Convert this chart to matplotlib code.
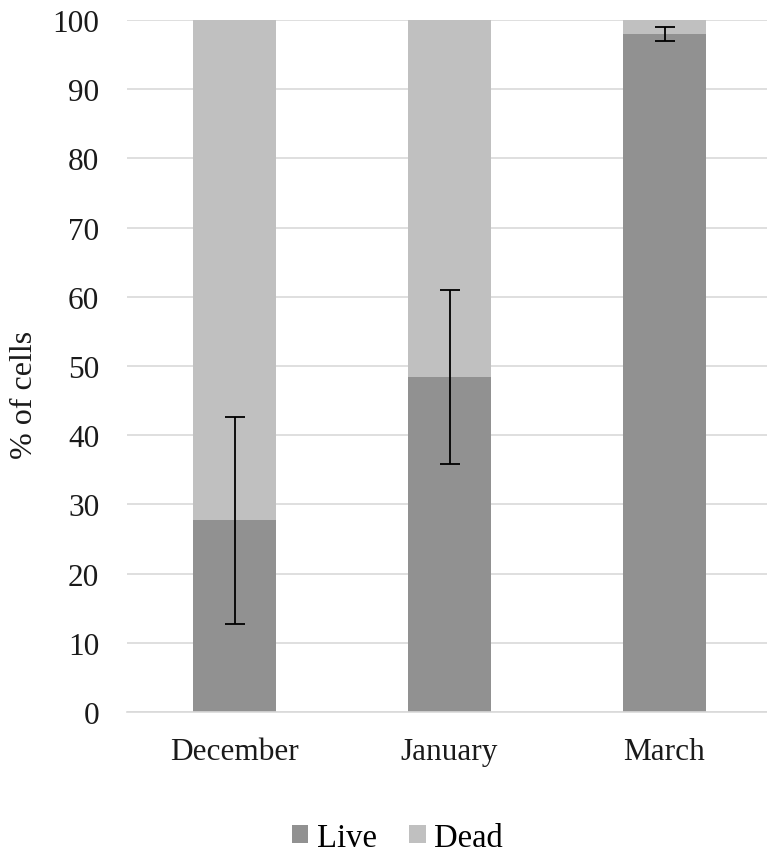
import numpy as np
import matplotlib.pyplot as plt

# Data
months = ['December', 'January', 'March']
live = [27.7, 48.4, 98.0]
dead = [100 - v for v in live]
live_err = [15.0, 12.6, 1.0]

plt.rcParams['font.family'] = ['Liberation Serif', 'DejaVu Serif']

fig = plt.figure(figsize=(7.67, 8.54), dpi=100)
ax = fig.add_axes([127 / 767, 1 - 713 / 854, 645 / 767, 692 / 854])

x = np.arange(len(months))
w = 0.39
ax.bar(x, live, w, color='#919191', label='Live', zorder=2)
ax.bar(x, dead, w, bottom=live, color='#c0c0c0', label='Dead', zorder=2)
ax.errorbar(x, live, yerr=live_err, fmt='none', ecolor='black',
            elinewidth=1.3, capsize=7, capthick=1.3, zorder=3)

# Axis styling
ax.set_xlim(-0.5, 2.5)
ax.set_ylim(0, 100)
ax.set_yticks(range(0, 101, 10))
ax.yaxis.grid(True, color='#d9d9d9', linewidth=1.2, zorder=0)
ax.set_axisbelow(True)
for s in ['top', 'right', 'left']:
    ax.spines[s].set_visible(False)
ax.spines['bottom'].set_color('#d9d9d9')
ax.spines['bottom'].set_linewidth(1.2)
ax.tick_params(length=0, labelsize=22.5, colors='#1a1a1a')
ax.tick_params(axis='y', pad=20)
ax.tick_params(axis='x', pad=18)
ax.set_xticks(x)
ax.set_xticklabels(months)
ax.set_ylabel('% of cells', fontsize=23, color='#1a1a1a')
ax.yaxis.set_label_coords(-0.136, 0.46)

fig.legend(loc='lower center', bbox_to_anchor=(0.518, -0.034), ncol=2,
           frameon=False, fontsize=23.5, handlelength=0.5, handleheight=0.5,
           handletextpad=0.25, columnspacing=1.0)

plt.savefig('out.png', dpi=100)
